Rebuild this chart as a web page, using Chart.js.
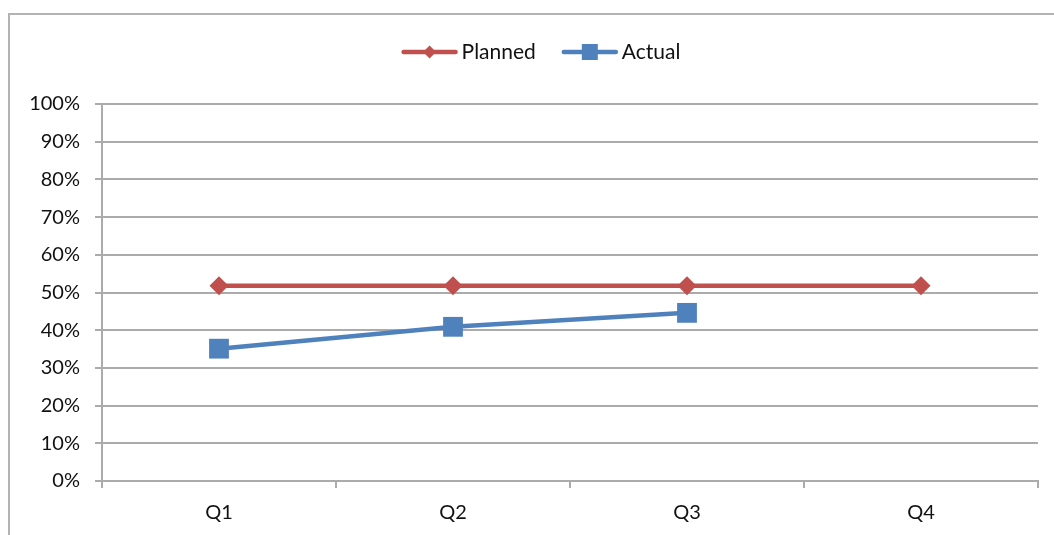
<!DOCTYPE html>
<html><head><meta charset="utf-8">
<script src="https://cdn.jsdelivr.net/npm/chart.js@4"></script>
<style>
html,body{margin:0;padding:0;overflow:hidden;background:#fff;width:1054px;height:535px}
#frame{position:absolute;left:8px;top:13px;width:1120px;height:620px;border:2px solid #b3b3b3;box-sizing:border-box}
#wrap{position:absolute;left:0;top:0;width:1054px;height:535px}
</style></head><body>
<div id="frame"></div>
<div id="wrap"><canvas id="c" width="1054" height="535"></canvas></div>
<script>
const categories = ['Q1', 'Q2', 'Q3', 'Q4'];
const planned = [51.8, 51.8, 51.8, 51.8];
const actual = [35.1, 40.9, 44.6, null];
const yTickLabels = ['0%','10%','20%','30%','40%','50%','60%','70%','80%','90%','100%'];
const seriesNames = ['Planned', 'Actual'];

const RED = '#C0504D', BLUE = '#4F81BD', GRID = '#ababab', TEXT = '#111111';
const FONT = 'Lato';

function drawMarker(ctx, style, x, y, r, color) {
  ctx.fillStyle = color;
  ctx.beginPath();
  if (style === 'rectRot') {
    ctx.moveTo(x, y - r); ctx.lineTo(x + r, y); ctx.lineTo(x, y + r); ctx.lineTo(x - r, y);
  } else {
    ctx.rect(x - r, y - r, 2 * r, 2 * r);
  }
  ctx.closePath();
  ctx.fill();
}

const legendPlugin = {
  id: 'customLegend',
  afterDraw(chart) {
    const ctx = chart.ctx;
    ctx.save();
    ctx.font = '21px ' + FONT;
    const items = chart.data.datasets.map(d => ({
      label: d.label, color: d.borderColor, style: d.pointStyle,
      r: d.pointStyle === 'rectRot' ? 6.5 : 8,
      w: ctx.measureText(d.label).width
    }));
    const lineW = 56, gapText = 4, gapItem = 26;
    let total = 0;
    items.forEach((it, i) => { total += lineW + gapText + it.w + (i ? gapItem : 0); });
    let x = 541 - total / 2;
    const y = 52;
    items.forEach((it) => {
      ctx.strokeStyle = it.color;
      ctx.lineWidth = 4.5;
      ctx.lineCap = 'round';
      ctx.beginPath(); ctx.moveTo(x + 2, y); ctx.lineTo(x + lineW - 2, y); ctx.stroke();
      drawMarker(ctx, it.style, x + lineW / 2, y, it.r, it.color);
      ctx.fillStyle = TEXT;
      ctx.textBaseline = 'middle';
      ctx.textAlign = 'left';
      ctx.fillText(it.label, x + lineW + gapText, y + 0.5);
      x += lineW + gapText + it.w + gapItem;
    });
    ctx.restore();
  }
};

new Chart(document.getElementById('c'), {
  type: 'line',
  data: {
    labels: categories,
    datasets: [
      { label: seriesNames[0], data: planned, borderColor: RED, backgroundColor: RED,
        borderWidth: 4.5, pointStyle: 'rectRot', pointRadius: 9.5, pointBackgroundColor: RED,
        pointBorderColor: RED, pointBorderWidth: 0, tension: 0 },
      { label: seriesNames[1], data: actual, borderColor: BLUE, backgroundColor: BLUE,
        borderWidth: 4.5, pointStyle: 'rect', pointRadius: 14, pointBackgroundColor: BLUE,
        pointBorderColor: BLUE, pointBorderWidth: 0, tension: 0 }
    ]
  },
  options: {
    responsive: false,
    animation: false,
    devicePixelRatio: 1,
    layout: { padding: { top: 104, right: 16, left: 0, bottom: 0 } },
    plugins: { legend: { display: false }, tooltip: { enabled: false } },
    scales: {
      x: {
        type: 'category',
        offset: true,
        grid: { drawOnChartArea: false, drawTicks: true, tickLength: 7, color: GRID, lineWidth: 2, offset: true },
        border: { display: true, color: GRID, width: 2 },
        ticks: { color: TEXT, font: { family: FONT, size: 20 }, padding: 13, maxRotation: 0 },
        afterFit(s) { s.height = 54; }
      },
      y: {
        min: 0, max: 100,
        ticks: { stepSize: 10, color: TEXT, font: { family: FONT, size: 20 }, padding: 15,
          callback: (v, i) => yTickLabels[i] },
        grid: { color: GRID, lineWidth: 2, tickLength: 7, drawTicks: true },
        border: { display: true, color: GRID, width: 2 },
        afterFit(s) { s.width = 102; }
      }
    }
  },
  plugins: [legendPlugin]
});
</script>
</body></html>
